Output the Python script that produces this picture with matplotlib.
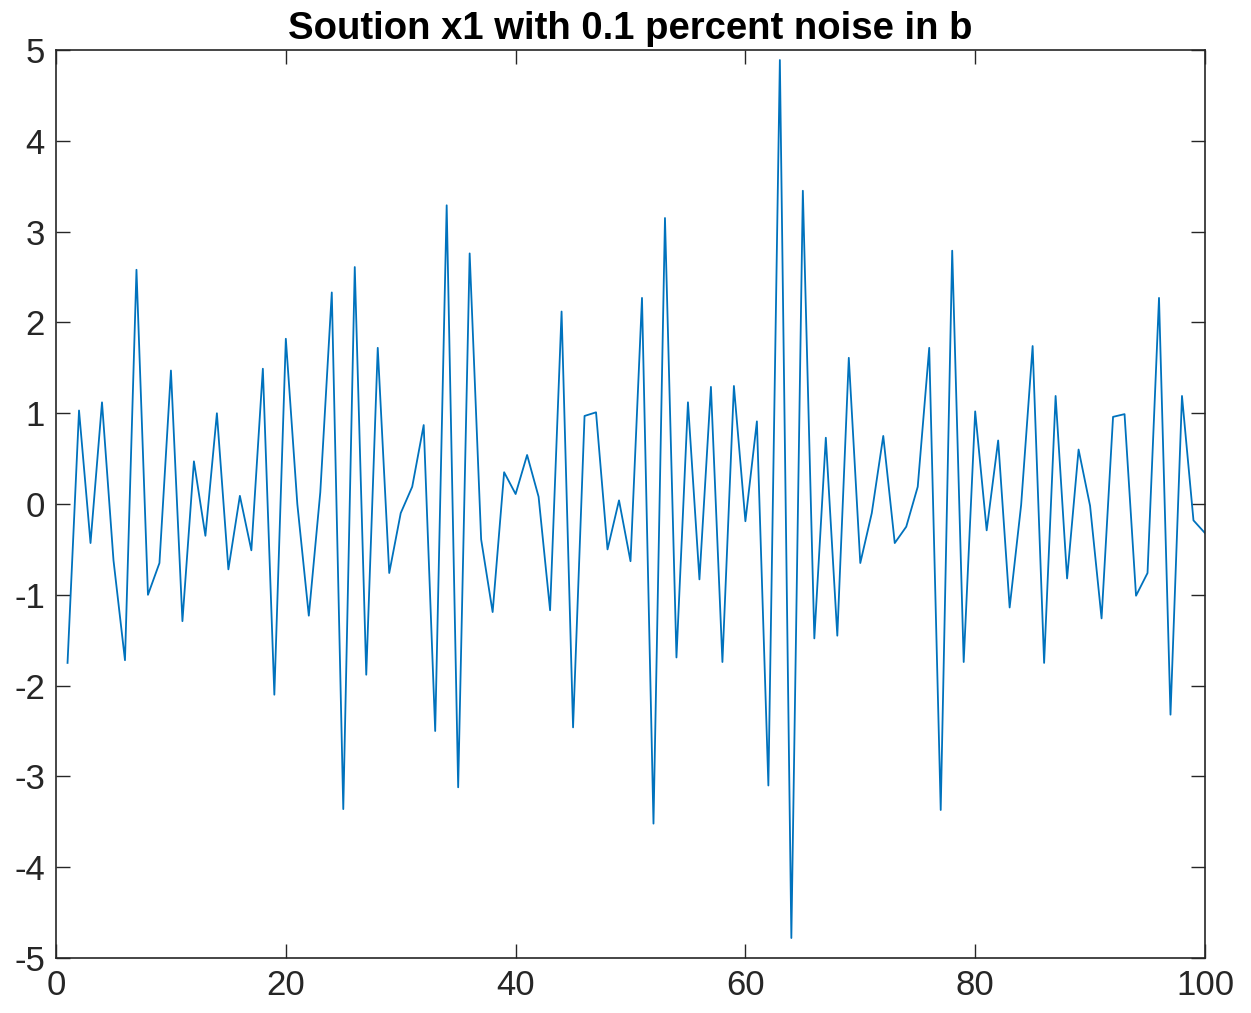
import matplotlib
matplotlib.use("Agg")
import matplotlib.pyplot as plt
import numpy as np

# solution component x1, one value per index 1..100
x_idx = np.arange(1, 101)
x1 = [-1.75, 1.03, -0.43, 1.12, -0.62, -1.72, 2.58, -1.00, -0.65, 1.47,
      -1.29, 0.47, -0.35, 1.00, -0.72, 0.09, -0.51, 1.49, -2.10, 1.82,
      0.00, -1.23, 0.13, 2.33, -3.36, 2.61, -1.88, 1.72, -0.76, -0.10,
      0.19, 0.87, -2.50, 3.29, -3.12, 2.76, -0.39, -1.19, 0.35, 0.11,
      0.54, 0.08, -1.17, 2.12, -2.46, 0.97, 1.01, -0.50, 0.04, -0.63,
      2.27, -3.52, 3.15, -1.69, 1.12, -0.83, 1.29, -1.74, 1.30, -0.19,
      0.91, -3.10, 4.89, -4.78, 3.45, -1.48, 0.73, -1.45, 1.61, -0.65,
      -0.10, 0.75, -0.43, -0.25, 0.19, 1.72, -3.37, 2.79, -1.74, 1.02,
      -0.29, 0.70, -1.14, -0.01, 1.74, -1.75, 1.19, -0.82, 0.60, -0.02,
      -1.26, 0.96, 0.99, -1.01, -0.76, 2.27, -2.32, 1.19, -0.18, -0.32]
xticks = [0, 20, 40, 60, 80, 100]
yticks = list(range(-5, 6))

plt.rcParams["font.family"] = ["Liberation Sans", "DejaVu Sans"]
plt.rcParams["axes.unicode_minus"] = False
fig = plt.figure(figsize=(12.51, 10.13), dpi=100)
ax = fig.add_axes([0.0448, 0.0543, 0.9184, 0.8963])
ax.plot(x_idx, x1, color="#0072BD", lw=1.3)
ax.set_xlim(0, 100)
ax.set_ylim(-5, 5)
ax.set_xticks(xticks)
ax.set_yticks(yticks)
ax.tick_params(direction="in", length=10, width=1, colors="#262626",
               labelsize=25, top=True, right=True, pad=8)
for s in ax.spines.values():
    s.set_color("#262626")
    s.set_linewidth(1.2)
ax.set_title("Soution x1 with 0.1 percent noise in b", fontsize=27.5,
             fontweight="bold", pad=8)
fig.savefig("out.png", dpi=100)
